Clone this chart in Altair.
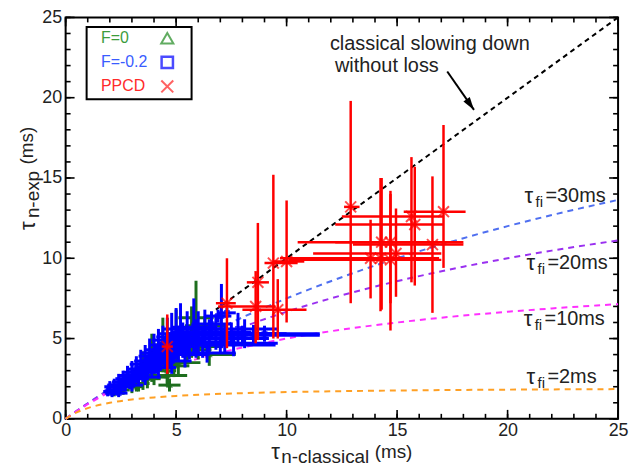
import altair as alt
import pandas as pd

# ---------------- data ----------------
# F = 0 (green): centre x, centre y, half x-error, half y-error
green_x = [2.2, 2.6, 3.0, 3.2, 3.3, 3.5, 3.7, 3.9, 4.0, 4.4, 4.6, 4.6, 4.7, 4.9, 5.0, 5.1, 5.5, 5.7, 5.9, 6.0, 6.3, 6.5]
green_y = [1.7, 1.8, 2.0, 2.6, 2.2, 3.0, 2.5, 3.8, 2.6, 4.6, 2.7, 3.0, 2.1, 3.3, 5.0, 3.5, 4.3, 5.4, 6.3, 4.5, 5.8, 4.0]
green_xe = [0.3, 0.3, 0.5, 0.4, 0.5, 0.5, 0.6, 0.5, 0.6, 0.5, 0.9, 0.4, 0.5, 0.7, 0.6, 1.0, 1.1, 0.7, 0.8, 1.0, 0.9, 1.2]
green_ye = [0.3, 0.3, 0.4, 0.9, 0.5, 1.2, 0.6, 1.5, 0.5, 1.7, 0.5, 1.0, 0.4, 0.7, 1.8, 0.8, 0.9, 1.6, 2.3, 0.8, 0.6, 0.7]

# F = -0.2 (blue)
blue_x = [1.9, 2.0, 2.1, 2.2, 2.3, 2.4, 2.4, 2.5, 2.6, 2.7, 2.8, 2.9, 3.0, 3.0, 3.1, 3.2, 3.3, 3.4,
          3.5, 3.6, 3.6, 3.7, 3.8, 3.9, 4.0, 4.1, 4.2, 4.2, 4.3, 4.4, 4.5, 4.6, 4.7, 4.8, 4.8, 4.9,
          5.0, 5.1, 5.2, 5.3, 5.4, 5.5, 5.6, 5.8, 5.9, 6.0, 6.2, 6.3, 6.4, 6.5, 6.6, 6.8, 6.9, 7.0,
          7.05, 7.2, 7.3, 7.5, 7.6, 7.8, 8.0, 8.1, 8.5, 9.0]
blue_y = [1.7, 2.0, 1.6, 2.1, 1.8, 2.3, 1.6, 2.0, 2.5, 2.1, 2.7, 2.3, 2.9, 2.1, 2.5, 3.1, 2.7, 3.4,
          2.9, 3.6, 2.6, 3.1, 3.9, 3.4, 4.1, 3.6, 4.3, 3.2, 3.9, 4.6, 4.1, 4.9, 4.3, 5.1, 3.6, 4.5,
          5.3, 4.7, 5.6, 4.9, 4.0, 5.3, 4.6, 5.7, 5.0, 5.4, 4.8, 5.6, 4.1, 5.2, 5.9, 5.4, 6.4, 4.6,
          6.4, 5.0, 6.6, 5.3, 4.7, 5.6, 5.2, 5.3, 5.25, 5.3]
blue_xe = [0.2, 0.25, 0.3, 0.3, 0.35, 0.3, 0.4, 0.4, 0.35, 0.4, 0.4, 0.45, 0.4, 0.5, 0.5, 0.45, 0.5, 0.5,
           0.55, 0.5, 0.7, 0.6, 0.5, 0.6, 0.6, 0.7, 0.6, 0.8, 0.7, 0.6, 0.8, 0.7, 0.8, 0.7, 0.9, 0.9,
           0.8, 0.9, 0.8, 1.0, 1.0, 0.9, 1.2, 1.0, 1.1, 1.2, 1.3, 1.0, 1.3, 1.5, 0.9, 1.6, 0.6, 2.5,
           0.3, 2.0, 0.4, 2.5, 2.0, 1.8, 3.5, 1.5, 2.8, 2.5]
blue_ye = [0.3, 0.35, 0.25, 0.4, 0.3, 0.5, 0.25, 0.4, 0.5, 0.4, 0.6, 0.45, 0.7, 0.4, 0.5, 0.8, 0.6, 0.9,
           0.6, 1.0, 0.5, 0.7, 1.1, 0.8, 1.2, 0.8, 1.3, 0.7, 0.9, 1.2, 0.9, 1.4, 1.0, 1.5, 0.8, 1.0,
           1.6, 1.1, 1.6, 1.1, 0.8, 1.4, 0.9, 1.8, 1.2, 1.3, 1.0, 1.2, 0.6, 1.0, 0.8, 1.1, 0.4, 0.5,
           2.0, 0.9, 0.3, 0.7, 0.8, 1.0, 0.6, 0.9, 0.6, 0.5]

# PPCD (red): centre and asymmetric error bar ends
red_x = [4.6, 7.3, 8.6, 8.7, 9.6, 9.4, 10.0, 12.9, 13.8, 14.3, 14.25, 14.7, 14.7, 14.95, 15.65, 15.8, 16.6, 17.1]
red_y = [4.5, 7.2, 7.0, 8.5, 6.8, 9.7, 9.8, 13.2, 10.0, 11.0, 10.0, 11.0, 9.9, 10.3, 12.6, 12.1, 10.85, 12.9]
red_xlo = [4.35, 6.8, 6.9, 8.2, 8.0, 9.0, 9.4, 12.6, 10.5, 10.5, 9.7, 12.2, 10.1, 11.2, 12.5, 12.2, 13.0, 15.3]
red_xhi = [4.85, 7.7, 9.5, 9.2, 10.9, 10.5, 10.8, 13.3, 16.9, 18.0, 16.5, 16.9, 17.0, 17.0, 17.1, 17.1, 18.0, 18.1]
red_ylo = [2.8, 4.4, 4.7, 4.9, 5.0, 5.0, 6.0, 7.2, 7.5, 6.8, 6.7, 7.2, 5.5, 7.6, 8.5, 8.3, 6.6, 9.4]
red_yhi = [6.5, 10.0, 9.2, 12.2, 8.7, 15.2, 13.6, 19.8, 12.4, 15.0, 15.0, 14.2, 14.0, 13.1, 16.3, 15.7, 15.1, 18.3]

# model curves
curve_x = [0, 0.25, 0.5, 1, 1.5, 2, 3, 4, 5, 6, 8, 10, 12, 14, 16, 18, 20, 22, 25]
tau30_y = [0, 0.248, 0.492, 0.968, 1.429, 1.875, 2.727, 3.529, 4.286, 5.0, 6.316, 7.5, 8.571, 9.545, 10.435, 11.25, 12.0, 12.692, 13.636]
tau20_y = [0, 0.247, 0.488, 0.952, 1.395, 1.818, 2.609, 3.333, 4.0, 4.615, 5.714, 6.667, 7.5, 8.235, 8.889, 9.474, 10.0, 10.476, 11.111]
tau10_y = [0, 0.244, 0.476, 0.909, 1.304, 1.667, 2.308, 2.857, 3.333, 3.75, 4.444, 5.0, 5.455, 5.833, 6.154, 6.429, 6.667, 6.875, 7.143]
tau2_y = [0, 0.222, 0.4, 0.667, 0.857, 1.0, 1.2, 1.333, 1.429, 1.5, 1.6, 1.667, 1.714, 1.75, 1.778, 1.8, 1.818, 1.833, 1.852]
diag_x = [6.8, 25]
diag_y = [6.8, 25]

curve_colors = ["#4f6ff0", "#9a30f0", "#ff30ff", "#ffa024"]
curve_label_text = ["=30ms", "=20ms", "=10ms", "=2ms"]
curve_label_x = [20.77, 20.86, 20.73, 20.86]
curve_label_y = [13.85, 9.68, 6.19, 2.63]

legend_labels = ["F=0", "F=-0.2", "PPCD"]
legend_text_colors = ["#3c9c3c", "#3a5cff", "#ff2a2a"]
legend_y = [23.7, 22.2, 20.7]

tick_major = [0, 5, 10, 15, 20, 25]
tick_minor = list(range(0, 26))

# ---------------- chart ----------------
FONT = "Liberation Sans"
W, H = 556, 404
XS = alt.Scale(domain=[0, 25], nice=False, zero=False)
YS = alt.Scale(domain=[0, 25], nice=False, zero=False)
XAX = alt.Axis(values=tick_major, ticks=False, domain=False, grid=False,
               labelFontSize=18, labelFont=FONT, labelColor="#222",
               labelPadding=3, title=None, labelFlush=False)
YAX = alt.Axis(values=tick_major, ticks=False, domain=False, grid=False,
               labelFontSize=18, labelFont=FONT, labelColor="#222",
               labelPadding=4, title=None, labelFlush=False)
XPATH = "M-1,-1L1,1M-1,1L1,-1"
ARROW = "M0,0L-0.6,2L0.6,2Z"


def ex(f):
    return alt.X(f, type="quantitative", scale=XS, axis=XAX, title=None)


def ey(f):
    return alt.Y(f, type="quantitative", scale=YS, axis=YAX, title=None)


layers = []

# tick marks (inward, on all four sides)
for vals, L in ((tick_minor, 5), (tick_major, 9)):
    d = pd.DataFrame({"t": vals})
    base = alt.Chart(d).mark_rule(color="black", strokeWidth=1.6)
    layers += [
        base.encode(x=ex("t"), y=alt.value(H), y2=alt.value(H - L)),
        base.encode(x=ex("t"), y=alt.value(0), y2=alt.value(L)),
        base.encode(y=ey("t"), x=alt.value(0), x2=alt.value(L)),
        base.encode(y=ey("t"), x=alt.value(W), x2=alt.value(W - L)),
    ]

# model curves
for ys, col in zip([tau30_y, tau20_y, tau10_y, tau2_y], curve_colors):
    d = pd.DataFrame({"x": curve_x, "y": ys})
    layers.append(alt.Chart(d).mark_line(color=col, strokeWidth=2, strokeDash=[6, 5],
                                         interpolate="monotone").encode(x=ex("x"), y=ey("y")))
d = pd.DataFrame({"x": diag_x, "y": diag_y})
layers.append(alt.Chart(d).mark_line(color="black", strokeWidth=2, strokeDash=[5, 4]).encode(x=ex("x"), y=ey("y")))


def sym_err(xs, ys, xe, ye, color, shape, width):
    d = pd.DataFrame({"x": xs, "y": ys, "xe": xe, "ye": ye})
    d["xlo"] = d["x"] - d["xe"]
    d["xhi"] = d["x"] + d["xe"]
    d["ylo"] = d["y"] - d["ye"]
    d["yhi"] = d["y"] + d["ye"]
    c = alt.Chart(d)
    return [
        c.mark_rule(color=color, strokeWidth=width).encode(x=ex("xlo"), x2="xhi", y=ey("y")),
        c.mark_rule(color=color, strokeWidth=width).encode(x=ex("x"), y=ey("ylo"), y2="yhi"),
        c.mark_point(shape=shape, size=20, filled=False, color=color, strokeWidth=1.5).encode(x=ex("x"), y=ey("y")),
    ]


layers += sym_err(green_x, green_y, green_xe, green_ye, "#1e6e1e", "triangle-up", 3)
layers += sym_err(blue_x, blue_y, blue_xe, blue_ye, "#0000ff", "square", 3)

rd = pd.DataFrame({"x": red_x, "y": red_y, "xlo": red_xlo, "xhi": red_xhi, "ylo": red_ylo, "yhi": red_yhi})
rc = alt.Chart(rd)
layers += [
    rc.mark_rule(color="#ff0000", strokeWidth=2.5).encode(x=ex("xlo"), x2="xhi", y=ey("y")),
    rc.mark_rule(color="#ff0000", strokeWidth=2.5).encode(x=ex("x"), y=ey("ylo"), y2="yhi"),
    rc.mark_point(shape=XPATH, size=121, filled=False, color="#ff0000", strokeWidth=2).encode(x=ex("x"), y=ey("y")),
]

# curve labels  tau_fi = ...
cl = pd.DataFrame({"x": curve_label_x, "y": curve_label_y, "t": curve_label_text})
clc = alt.Chart(cl)
layers += [
    clc.mark_text(text="τ", align="left", baseline="middle", font=FONT, fontSize=22, color="#222").encode(x=ex("x"), y=ey("y")),
    clc.mark_text(text="fi", align="left", baseline="middle", font=FONT, fontSize=15, color="#222", dx=11, dy=6).encode(x=ex("x"), y=ey("y")),
    clc.mark_text(align="left", baseline="middle", font=FONT, fontSize=20, color="#222", dx=21).encode(x=ex("x"), y=ey("y"), text="t:N"),
]

# annotation with arrow
ann = pd.DataFrame({"x": [11.96, 12.19], "y": [23.35, 22.0], "t": ["classical slowing down", "without loss"]})
layers.append(alt.Chart(ann).mark_text(align="left", baseline="middle", font=FONT, fontSize=20, color="#222")
              .encode(x=ex("x"), y=ey("y"), text="t:N"))
arr = pd.DataFrame({"x": [17.27], "y": [21.63], "x2": [18.48], "y2": [19.24]})
layers.append(alt.Chart(arr).mark_rule(color="black", strokeWidth=2).encode(x=ex("x"), y=ey("y"), x2="x2", y2="y2"))
layers.append(alt.Chart(arr).mark_point(shape=ARROW, size=169, filled=True, color="black", opacity=1, angle=145)
              .encode(x=ex("x2"), y=ey("y2")))

# legend box
lb = pd.DataFrame({"x": [0.95], "x2": [5.7], "y": [19.9], "y2": [24.4]})
layers.append(alt.Chart(lb).mark_rect(fill="white", stroke="black", strokeWidth=2)
              .encode(x=ex("x"), x2="x2", y=ey("y"), y2="y2"))
for lab, col, ly in zip(legend_labels, legend_text_colors, legend_y):
    d = pd.DataFrame({"x": [1.6], "y": [ly], "t": [lab]})
    layers.append(alt.Chart(d).mark_text(align="left", baseline="middle", font=FONT, fontSize=16, color=col)
                  .encode(x=ex("x"), y=ey("y"), text="t:N"))
sym_df = [pd.DataFrame({"x": [4.6], "y": [v]}) for v in legend_y]
layers.append(alt.Chart(sym_df[0]).mark_point(shape="triangle-up", size=150, filled=False, color="#1f8a1f", strokeWidth=2)
              .encode(x=ex("x"), y=ey("y")))
layers.append(alt.Chart(sym_df[1]).mark_point(shape="square", size=130, filled=False, color="#0000ff", strokeWidth=2.5)
              .encode(x=ex("x"), y=ey("y")))
layers.append(alt.Chart(sym_df[2]).mark_point(shape=XPATH, size=144, filled=False, color="#ff2020", strokeWidth=2)
              .encode(x=ex("x"), y=ey("y")))

# axis titles (tau with subscripts)
one = pd.DataFrame({"k": [0]})
tc = alt.Chart(one)
layers += [
    tc.mark_text(text="τ", align="left", baseline="alphabetic", font=FONT, fontSize=22, color="#222")
      .encode(x=alt.value(207), y=alt.value(444)),
    tc.mark_text(text="n-classical", align="left", baseline="alphabetic", font=FONT, fontSize=19, color="#222")
      .encode(x=alt.value(217), y=alt.value(448)),
    tc.mark_text(text="(ms)", align="left", baseline="alphabetic", font=FONT, fontSize=19, color="#222")
      .encode(x=alt.value(311), y=alt.value(443)),
    tc.mark_text(text="τ", align="left", baseline="middle", font=FONT, fontSize=22, color="#222", angle=270)
      .encode(x=alt.value(-38), y=alt.value(214)),
    tc.mark_text(text="n-exp", align="left", baseline="middle", font=FONT, fontSize=19, color="#222", angle=270)
      .encode(x=alt.value(-33), y=alt.value(202)),
    tc.mark_text(text="(ms)", align="left", baseline="middle", font=FONT, fontSize=19, color="#222", angle=270)
      .encode(x=alt.value(-39), y=alt.value(148)),
]

chart = alt.layer(*layers).properties(
    width=W, height=H,
    padding={"left": 58, "top": 8, "right": 12, "bottom": 46},
    autosize=alt.AutoSizeParams(type="none"),
).configure_view(stroke="black", strokeWidth=2)

chart.save("out.html", embed_options={"renderer": "svg", "actions": False})
